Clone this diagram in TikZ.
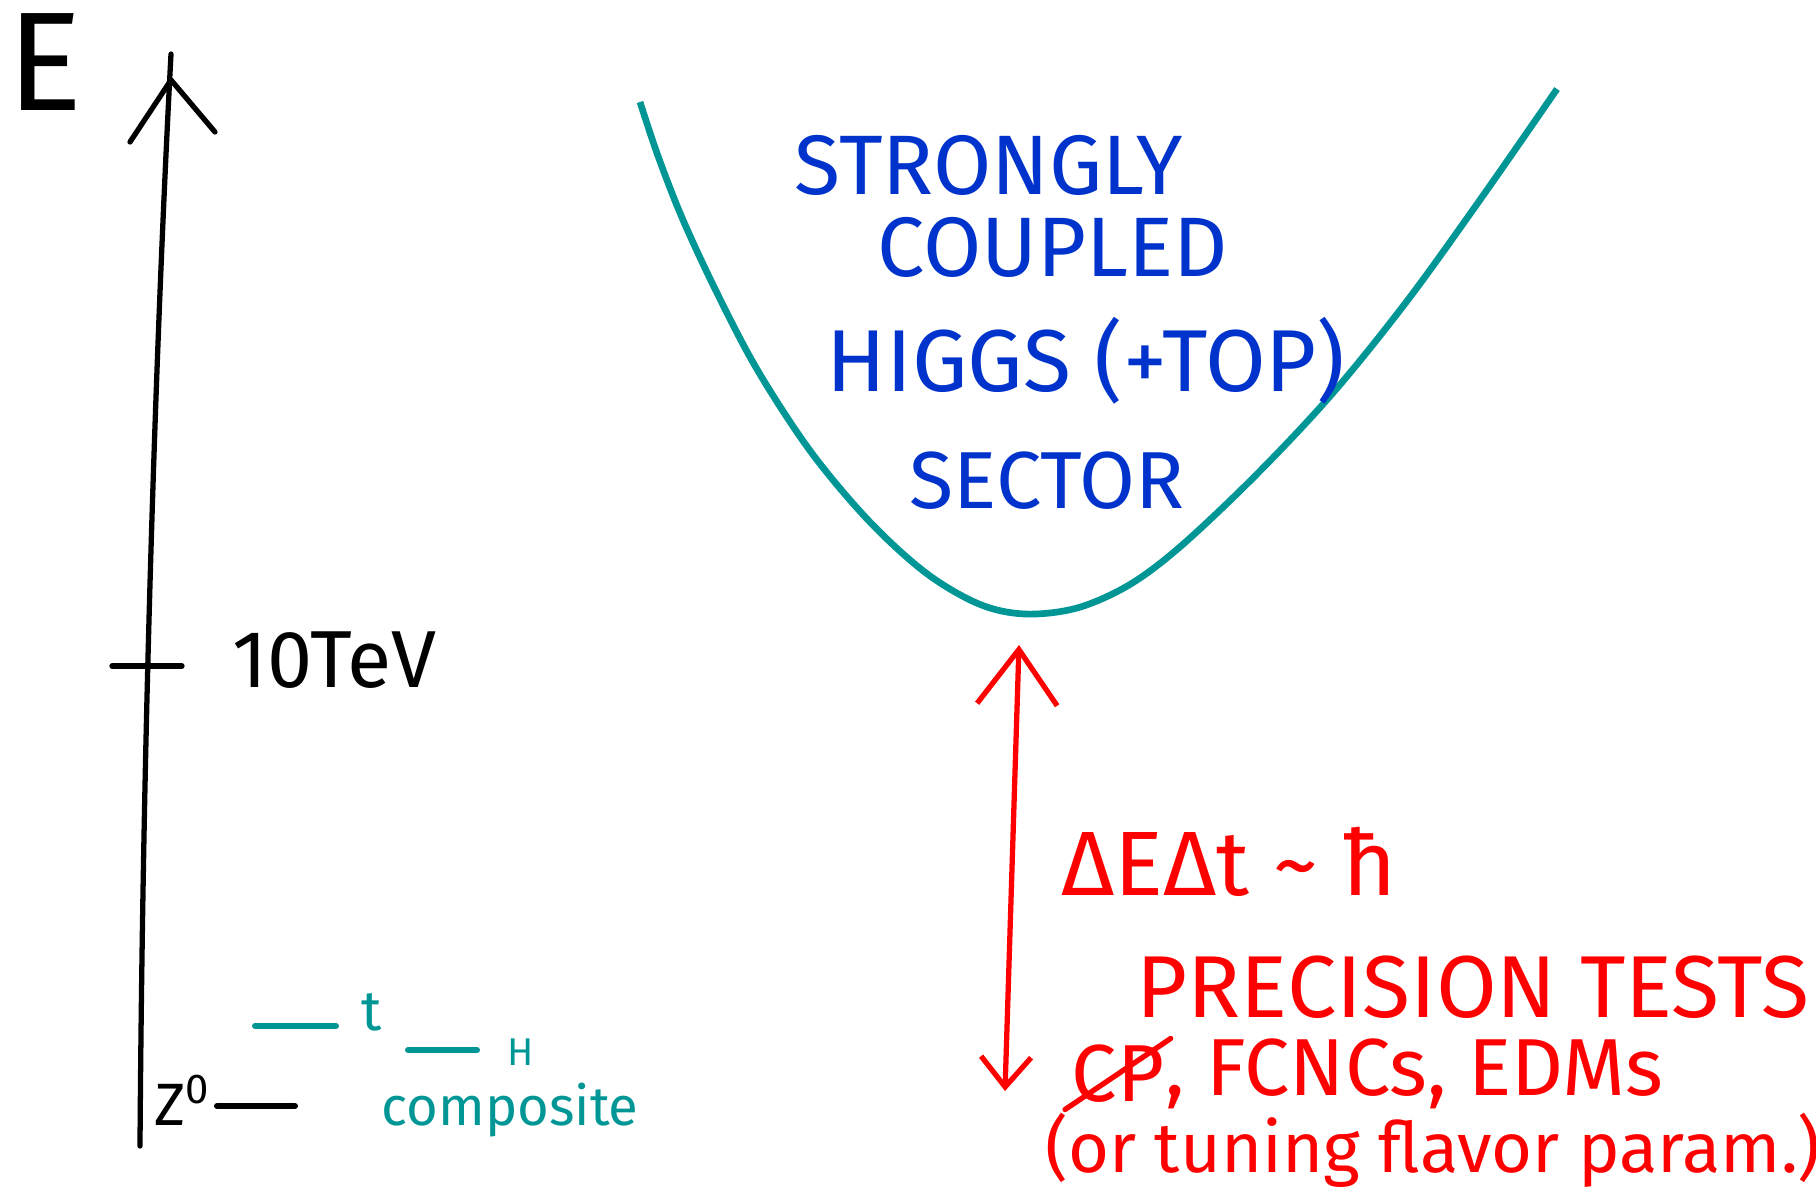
\documentclass[tikz,border=0pt]{standalone}
\usepackage{fontspec}
\setmainfont{Fira Sans}
\usetikzlibrary{arrows.meta, positioning}
\definecolor{penTeal}{RGB}{0,150,150}
\definecolor{penBlue}{RGB}{0,51,204}
\definecolor{penRed}{RGB}{255,0,0}
\tikzstyle{pen} = [line width=1.5pt, line cap=round, line join=round]
\tikzstyle{levelmark} = [line width=1.7pt, line cap=round]
\tikzstyle{bowl} = [line width=1.9pt, penTeal]
\tikzstyle{ink} = [inner sep=0pt]
\tikzstyle{blueword} = [ink, text=penBlue]
\tikzstyle{redword} = [ink, text=penRed]
\tikzstyle{uncertarrow} = [pen, penRed, {Straight Barb[length=5.5mm,width=8mm]}-{Straight Barb[length=3mm,width=5mm]}]
\newcommand\fsz[1]{\fontsize{#1}{1.2\dimexpr#1pt\relax}\selectfont}

\begin{document}
\begin{tikzpicture}[x=0.01cm, y=-0.01cm]
\useasboundingbox (0,0) rectangle (1816,1203);

% Energy axis
\coordinate (axisBottom) at (140,1146);
\coordinate (axisTop) at (171,54);
\coordinate (axisApex) at (171,80);
\coordinate (tickL) at (112,666);
\coordinate (tickR) at (182,666);
\node (energyLabel) [ink, font=\fsz{40}] at (45,62) {E};
\node (tevLabel) [ink, font=\fsz{23}, anchor=west] at (232,660) {10TeV};

\draw [pen] (axisBottom) .. controls (143,700) and (158,300) .. (axisTop);
\draw [pen] ([shift={(-41,62)}]axisApex) -- (axisApex) -- ([shift={(44,52)}]axisApex);
\draw [pen] (tickL) -- (tickR);

% Levels near the bottom
\node (zLabel) [ink, font=\fsz{17}, anchor=west] at (154,1100) {Z\textsuperscript{0}};
\node (topLabel) [ink, font=\fsz{16}, text=penTeal] at (372,1012) {t};
\node (higgsLabel) [ink, font=\fsz{11}, text=penTeal] at (521,1052) {H};
\node (compLabel) [ink, font=\fsz{15.5}, text=penTeal] at (510,1110) {composite};

\coordinate (zLineL) at (217,1106);
\coordinate (zLineR) at (295,1106);
\coordinate (tLineL) at (255,1026);
\coordinate (tLineR) at (336,1026);
\coordinate (hLineL) at (408,1050);
\coordinate (hLineR) at (477,1050);
\draw [levelmark] (zLineL) -- (zLineR);
\draw [levelmark, penTeal] (tLineL) -- (tLineR);
\draw [levelmark, penTeal] (hLineL) -- (hLineR);

% Strongly coupled sector
\draw [bowl] plot [smooth, tension=0.55] coordinates {(640,102) (658,156) (683,220) (718,295) (758,371) (811,452) (869,521) (926,573) (979,604) (1025,614) (1077,608) (1129,585) (1181,546) (1256,475) (1332,394) (1407,301) (1482,197) (1557,89)};
\coordinate (bowlBottom) at (1019,645);

\node (strongly) [blueword, font=\fsz{24}] at (989,165) {STRONGLY};
\node (coupled) [blueword, font=\fsz{24}] at (1053,247) {COUPLED};
\node (higgsTop) [blueword, font=\fsz{25}] at (1086,361) {HIGGS (+TOP)};
\node (sector) [blueword, font=\fsz{23}] at (1047,481) {SECTOR};

% Uncertainty arrow and precision tests
\coordinate (arrowEnd) at (1005,1091);
\draw [uncertarrow] (bowlBottom) -- (arrowEnd);

\node (uncert) [redword, font=\fsz{26}] at (1229,862) {ΔEΔt \textasciitilde\ ħ};
\node (precision) [redword, font=\fsz{25}] at (1473,987) {PRECISION TESTS};
\node (cpLabel) [redword, font=\fsz{23}, anchor=west] at (1071,1074) {CP};
\node (flavour) [redword, font=\fsz{23}, right=0pt of cpLabel] {, FCNCs, EDMs};
\node (tuning) [redword, font=\fsz{20}] at (1433,1150) {(or tuning flavor param.)};
\draw [pen, penRed] ([shift={(-6,6)}]cpLabel.south west) -- ([shift={(6,-6)}]cpLabel.north east);

\end{tikzpicture}
\end{document}
